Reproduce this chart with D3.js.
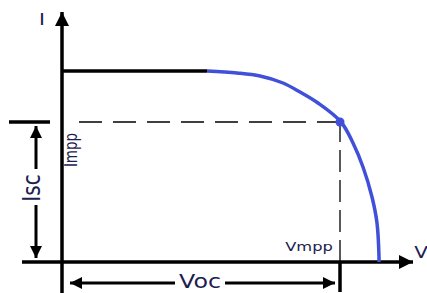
<!DOCTYPE html>
<html>
<head>
<meta charset="utf-8">
<script src="https://cdn.jsdelivr.net/npm/d3@7"></script>
<style>
  body { margin: 0; background: #fff; }
  text { font-family: "DejaVu Sans", Verdana, sans-serif; fill: #1c2050; }
</style>
</head>
<body>
<svg id="chart"></svg>
<script>
// curve points (V, I), units ~ pixels from origin
const curveV = [145, 175, 198, 221, 238, 256, 279, 291, 301, 310, 315, 317, 317];
const curveI = [191, 189, 186, 179, 170, 159, 140, 119, 95, 65, 39, 5, 0];
const isc = 191;
const vmpp = 278;
const impp = 140;
const labels = { i: 'I', v: 'V', isc: 'Isc', voc: 'Voc', impp: 'Impp', vmpp: 'Vmpp' };

const svg = d3.select('#chart')
  .attr('width', 427)
  .attr('height', 293);

const x = d3.scaleLinear().domain([0, 351]).range([62, 413]);
const y = d3.scaleLinear().domain([0, 250]).range([262, 12]);

const blue = '#4050d8';
const ink = '#000';

// arrow marker
const defs = svg.append('defs');
defs.append('marker')
  .attr('id', 'arr')
  .attr('viewBox', '0 0 10 10')
  .attr('refX', 10).attr('refY', 5)
  .attr('markerWidth', 4).attr('markerHeight', 4)
  .attr('markerUnits', 'strokeWidth')
  .attr('orient', 'auto-start-reverse')
  .append('path')
  .attr('d', 'M0,0L10,5L0,10Z')
  .attr('fill', ink);

// dashed guides
svg.append('line')
  .attr('x1', x(vmpp)).attr('y1', y(impp))
  .attr('x2', x(8)).attr('y2', y(impp))
  .attr('stroke', ink).attr('stroke-width', 1.3)
  .attr('stroke-dasharray', '23,11');
svg.append('line')
  .attr('x1', x(vmpp)).attr('y1', y(0))
  .attr('x2', x(vmpp)).attr('y2', y(impp))
  .attr('stroke', ink).attr('stroke-width', 1.3)
  .attr('stroke-dasharray', '22,8');

// axes
svg.append('line')
  .attr('x1', x(-40)).attr('y1', y(0))
  .attr('x2', x(351)).attr('y2', y(0))
  .attr('stroke', ink).attr('stroke-width', 3.5)
  .attr('marker-end', 'url(#arr)');
svg.append('line')
  .attr('x1', x(0)).attr('y1', y(-32))
  .attr('x2', x(0)).attr('y2', y(250))
  .attr('stroke', ink).attr('stroke-width', 3.5)
  .attr('marker-end', 'url(#arr)');

// small solid ticks
svg.append('line')
  .attr('x1', x(-53)).attr('y1', y(impp))
  .attr('x2', x(-12)).attr('y2', y(impp))
  .attr('stroke', ink).attr('stroke-width', 3.5);
svg.append('line')
  .attr('x1', x(vmpp)).attr('y1', y(0))
  .attr('x2', x(vmpp)).attr('y2', y(-30))
  .attr('stroke', ink).attr('stroke-width', 3.5);

// Isc flat part
svg.append('line')
  .attr('x1', x(0)).attr('y1', y(isc))
  .attr('x2', x(curveV[0])).attr('y2', y(isc))
  .attr('stroke', ink).attr('stroke-width', 3.5);

// blue knee
const pts = curveV.map((v, k) => [v, curveI[k]]);
svg.append('path')
  .datum(pts)
  .attr('fill', 'none')
  .attr('stroke', blue)
  .attr('stroke-width', 3.5)
  .attr('d', d3.line().x(d => x(d[0])).y(d => y(d[1])).curve(d3.curveCatmullRom.alpha(0.5)));

svg.append('circle')
  .attr('cx', x(vmpp)).attr('cy', y(impp))
  .attr('r', 4.5).attr('fill', blue);

// Isc arrow (two halves around the label)
svg.append('line')
  .attr('x1', 36).attr('y1', y(93))
  .attr('x2', 36).attr('y2', y(impp - 4))
  .attr('stroke', ink).attr('stroke-width', 3)
  .attr('marker-end', 'url(#arr)');
svg.append('line')
  .attr('x1', 36).attr('y1', y(57))
  .attr('x2', 36).attr('y2', y(4))
  .attr('stroke', ink).attr('stroke-width', 3)
  .attr('marker-end', 'url(#arr)');

// Voc arrow
svg.append('line')
  .attr('x1', x(113)).attr('y1', 283)
  .attr('x2', x(8)).attr('y2', 283)
  .attr('stroke', ink).attr('stroke-width', 3)
  .attr('marker-end', 'url(#arr)');
svg.append('line')
  .attr('x1', x(163)).attr('y1', 283)
  .attr('x2', x(vmpp - 5)).attr('y2', 283)
  .attr('stroke', ink).attr('stroke-width', 3)
  .attr('marker-end', 'url(#arr)');

// labels (the source picture is stretched sideways, so text is too)
const label = (tx, ty, size, str, rot) => svg.append('text')
  .attr('transform', `translate(${tx},${ty}) scale(1.25,1)` + (rot ? ' rotate(-90)' : ''))
  .attr('font-size', size)
  .attr('text-anchor', 'middle')
  .text(str);

label(42, 25, 16, labels.i);
label(421, 258, 16, labels.v);
label(200, 288, 19, labels.voc);
label(309, 251, 13, labels.vmpp);
label(40, 188, 20, labels.isc, true);
label(77, 150, 13.5, labels.impp, true);
</script>
</body>
</html>
